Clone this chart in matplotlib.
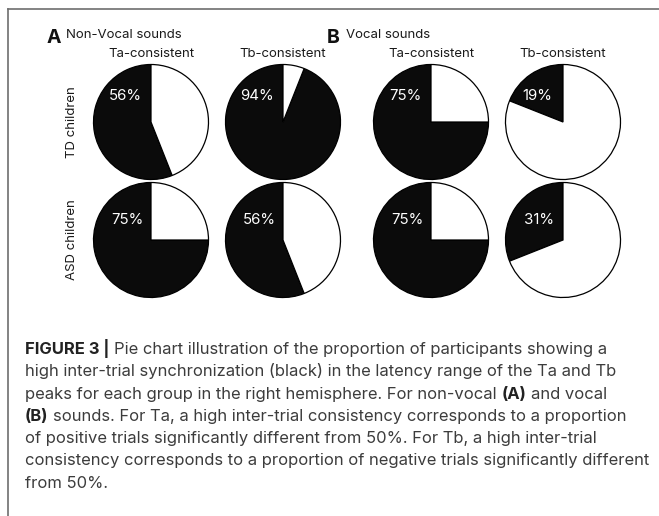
import matplotlib
matplotlib.use("Agg")
import matplotlib.pyplot as plt
from matplotlib.lines import Line2D

# Dados: porcentagem de participantes com alta sincronizacao (preto)
panels = ["A", "B"]
panel_titles = ["Non-Vocal sounds", "Vocal sounds"]
conditions = ["Ta-consistent", "Tb-consistent"]
groups = ["TD children", "ASD children"]

# ordem: [painel][condicao]
td_values = [[56, 94], [75, 19]]
asd_values = [[75, 56], [75, 31]]
values = [td_values, asd_values]

caption_lines = [
    [("FIGURE 3 |", True), ("Pie chart illustration of the proportion of participants showing a", False)],
    [("high inter-trial synchronization (black) in the latency range of the Ta and Tb", False)],
    [("peaks for each group in the right hemisphere. For non-vocal", False), ("(A)", True), ("and vocal", False)],
    [("(B)", True), ("sounds. For Ta, a high inter-trial consistency corresponds to a proportion", False)],
    [("of positive trials significantly different from 50%. For Tb, a high inter-trial", False)],
    [("consistency corresponds to a proportion of negative trials significantly different", False)],
    [("from 50%.", False)],
]

W, H = 659, 516
plt.rcParams['font.family'] = ['Inter', 'DejaVu Sans']
fig = plt.figure(figsize=(W / 100, H / 100), dpi=100)

def fx(x):
    return x / W

def fy(y):
    return 1 - y / H

# layout em pixels
col_x = [[151, 283], [431, 563]]
row_y = [122, 240]
R = 57.5
pad = 1.04
label_off = [(-26, -22), (-24, -16)]

for g in range(2):
    for p in range(2):
        for c in range(2):
            cx, cy = col_x[p][c], row_y[g]
            size = 2 * R * pad
            ax = fig.add_axes([fx(cx - size / 2), fy(cy + size / 2), size / W, size / H])
            v = values[g][p][c]
            ax.pie([v, 100 - v], colors=["#0b0b0b", "white"], startangle=90,
                   counterclock=True,
                   wedgeprops=dict(edgecolor="black", linewidth=0.9))
            ax.set_xlim(-pad, pad)
            ax.set_ylim(-pad, pad)
            ax.set_aspect("equal")
            ax.axis("off")
            dx, dy = label_off[g]
            fig.text(fx(cx + dx), fy(cy + dy), f"{v}%", color="white",
                     fontsize=10.8, ha="center", va="baseline")

# titulos das colunas
for p in range(2):
    for c in range(2):
        fig.text(fx(col_x[p][c]), fy(57), conditions[c], fontsize=9.5,
                 ha="center", va="baseline", color="#1a1a1a")

# letras dos paineis
panel_x = [47, 327]
for p in range(2):
    fig.text(fx(panel_x[p]), fy(43), panels[p], fontsize=14, fontweight="bold",
             ha="left", va="baseline", color="#111")
    fig.text(fx(panel_x[p] + 19), fy(38), panel_titles[p], fontsize=9.5,
             ha="left", va="baseline", color="#1a1a1a")

# rotulos das linhas
for g in range(2):
    fig.text(fx(72), fy(row_y[g]), groups[g], fontsize=9.5, rotation=90,
             ha="center", va="center", color="#1a1a1a")

# moldura (topo e esquerda)
fig.add_artist(Line2D([fx(8), 1], [fy(9), fy(9)], color="#6e6e6e", linewidth=1.2))
fig.add_artist(Line2D([fx(8), fx(8)], [fy(9), 0], color="#6e6e6e", linewidth=1.2))

# legenda da figura
renderer = fig.canvas.get_renderer()
cap_size = 11.95

def text_width(s, bold):
    t = fig.text(0, 0, s, fontsize=cap_size, fontweight="bold" if bold else "normal")
    w = t.get_window_extent(renderer).width
    t.remove()
    return w

space_w = text_width("a a", False) - text_width("aa", False)

y0 = 354
line_h = 22.3
for i, line in enumerate(caption_lines):
    x = 25
    for s, bold in line:
        t = fig.text(fx(x), fy(y0 + i * line_h), s, fontsize=cap_size,
                     fontweight="bold" if bold else "normal",
                     color="#222222" if bold else "#3c3c3c",
                     ha="left", va="baseline")
        x += t.get_window_extent(renderer).width + space_w

fig.savefig("out.png", dpi=100)
